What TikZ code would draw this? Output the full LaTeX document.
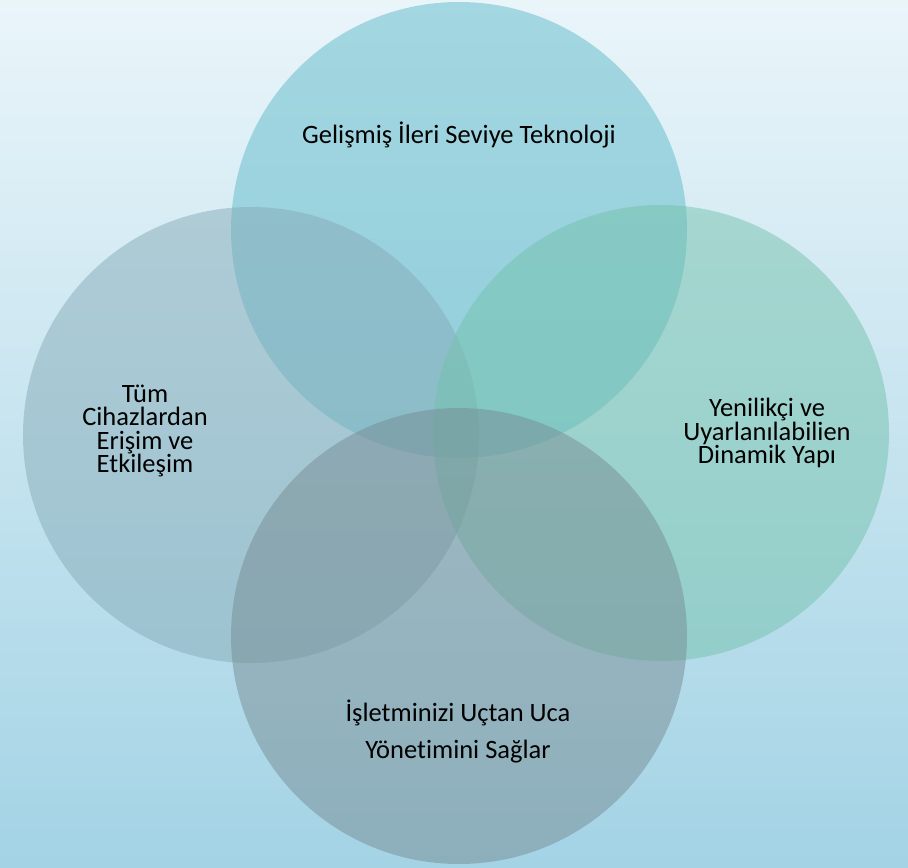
\documentclass[tikz,border=0pt]{standalone}
\usepackage{fontspec}
\setmainfont{Carlito}[Ligatures=NoCommon]
\definecolor{bgtop}{HTML}{EAF5FA}
\definecolor{bgbot}{HTML}{A3D3E5}
\definecolor{ctop}{HTML}{5EBAC9}
\definecolor{cleft}{HTML}{86ACB8}
\definecolor{cright}{HTML}{74C2AC}
\definecolor{cbot}{HTML}{778D94}
\tikzset{ring/.style = {circle, minimum size=456bp, inner sep=0pt, fill opacity=0.5, draw=none},
    lbl/.style = {align=center, font=\fontsize{26.5bp}{23.5bp}\selectfont, text=black},
    lblw/.style = {align=center, font=\fontsize{26.5bp}{37bp}\selectfont, text=black}}

\begin{document}
\begin{tikzpicture}[x=1bp, y=-1bp]
    \shade[top color=bgtop, bottom color=bgbot] (0,0) rectangle (908,868);
    \useasboundingbox (0,0) rectangle (908,868);

    % four circles
    \node[ring, fill=ctop]   (top)   at (459,230) {};
    \node[ring, fill=cleft]  (lft)   at (251,435) {};
    \node[ring, fill=cright] (rgt)   at (661,433) {};
    \node[ring, fill=cbot]   (bot)   at (459,636) {};

    % labels
    \node[lbl]  (ttop) at (459,135) {Gelişmiş İleri Seviye Teknoloji};
    \node[lbl]  (tlft) at (145,431) {Tüm\\Cihazlardan\\Erişim ve\\Etkileşim};
    \node[lbl]  (trgt) at (767,433) {Yenilikçi ve\\Uyarlanılabilien\\Dinamik Yapı};
    \node[lblw] (tbot) at (458,731) {İşletminizi Uçtan Uca\\Yönetimini Sağlar};
\end{tikzpicture}
\end{document}
